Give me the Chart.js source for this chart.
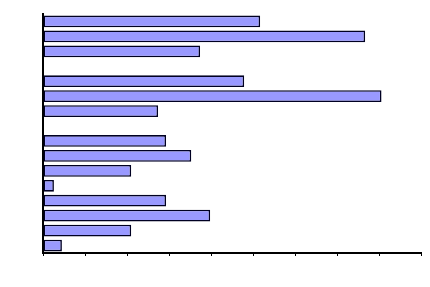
<!DOCTYPE html>
<html>
<head>
<meta charset="utf-8">
<script src="https://cdn.jsdelivr.net/npm/chart.js@4/dist/chart.umd.min.js"></script>
<style>
  html, body { margin: 0; padding: 0; background: #fff; }
  #wrap { width: 430px; height: 287px; }
</style>
</head>
<body>
<div id="wrap"><canvas id="myChart"></canvas></div>
<script>
// categories (no visible labels in the original), two empty slots split the groups
var labels = ['', '', '', ' ', '', '', '', '  ', '', '', '', '', '', '', '', ''];
var values = [51.7, 76.7, 37.4, null, 47.9, 80.6, 27.4, null, 29.3, 35.3, 21, 2.6, 29.3, 39.8, 21, 4.5];
var xMax = 90;
var xStep = 10;

const data = {
    labels: labels,
    datasets: [{
    label: 'Series 1',
    backgroundColor: '#9999ff',
    borderColor: '#000022',
    borderWidth: 1.6,
    borderSkipped: false,
    barPercentage: 0.79,
    categoryPercentage: 1,
    data: values,
    }]
};

const config = {
    type: 'bar',
    data: data,
    options: {
        indexAxis: 'y',
        responsive: true,
        maintainAspectRatio: false,
        animation: false,
        layout: { padding: { left: 43, right: 9, top: 14, bottom: 31 } },
        plugins: { legend: { display: false }, tooltip: { enabled: false } },
        scales: {
            x: {
                min: 0,
                max: xMax,
                ticks: { display: false, stepSize: xStep },
                grid: { display: true, drawOnChartArea: false, drawTicks: true, tickLength: 3, color: '#000', lineWidth: 1 },
                border: { display: true, color: '#000', width: 2 }
            },
            y: {
                ticks: { display: false },
                grid: { display: false, drawTicks: false },
                border: { display: true, color: '#000', width: 2 }
            }
        }
    }
};

const myChart = new Chart(
    document.getElementById('myChart'),
    config
);
</script>
</body>
</html>
